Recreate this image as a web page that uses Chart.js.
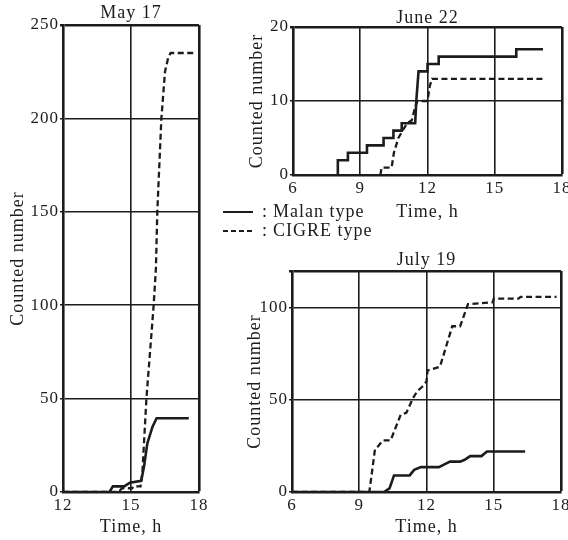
<!DOCTYPE html>
<html>
<head>
<meta charset="utf-8">
<script src="https://cdn.jsdelivr.net/npm/chart.js@4"></script>
<style>
  body { margin: 0; background: #fff; }
  #wrap { position: relative; width: 568px; height: 540px; overflow: hidden; }
  canvas { position: absolute; }
</style>
</head>
<body>
<div id="wrap">
  <canvas id="may17" width="230" height="540" style="left:0;top:0"></canvas>
  <canvas id="june22" width="348" height="225" style="left:220px;top:0"></canvas>
  <canvas id="july19" width="348" height="340" style="left:220px;top:200px"></canvas>
</div>
<script>
// May 17
const mayXTicks = [12, 15, 18];
const mayYTicks = [0, 50, 100, 150, 200, 250];
const mayMalanHours = [12, 14.05, 14.2, 14.7, 14.95, 15.45, 15.58, 15.72, 15.95, 16.13, 17.55];
const mayMalanCount = [0, 0, 3, 3, 5, 6, 14, 26, 35, 39.5, 39.5];
const mayCigreHours = [12, 14.45, 14.6, 15.05, 15.1, 15.42, 15.5, 15.68, 16.0, 16.1, 16.16, 16.34, 16.5, 16.65, 16.75, 17.75];
const mayCigreCount = [0, 0, 2, 2, 3, 3, 10, 50, 100, 120, 150, 200, 225, 233, 235, 235];

// June 22
const juneXTicks = [6, 9, 12, 15, 18];
const juneYTicks = [0, 10, 20];
const juneMalanHours = [8.0, 8.0, 8.45, 8.45, 9.3, 9.3, 10.04, 10.04, 10.48, 10.48, 10.85, 10.85, 11.45, 11.5, 11.6, 12.0, 12.0, 12.5, 12.5, 15.96, 15.96, 17.15];
const juneMalanCount = [0, 2, 2, 3, 3, 4, 4, 5, 5, 6, 6, 7, 7, 10, 14, 14, 15, 15, 16, 16, 17, 17];
const juneCigreHours = [9.9, 9.95, 10.4, 10.5, 10.7, 10.95, 11.1, 11.3, 11.45, 11.55, 12.0, 12.1, 12.2, 17.15];
const juneCigreCount = [0, 1, 1, 3, 5, 6.3, 7, 7.4, 9.2, 10, 10, 12, 13, 13];

// July 19
const julyXTicks = [6, 9, 12, 15, 18];
const julyYTicks = [0, 50, 100];
const julyYMax = 120;
const julyMalanHours = [6, 10.1, 10.35, 10.55, 11.25, 11.45, 11.75, 12.55, 12.8, 13.05, 13.5, 13.7, 13.95, 14.45, 14.7, 16.4];
const julyMalanCount = [0, 0, 2, 9, 9, 12, 13.5, 13.5, 15, 16.5, 16.5, 17.5, 19.5, 19.5, 22, 22];
const julyCigreHours = [6, 9.45, 9.7, 9.85, 10.05, 10.4, 10.85, 11.1, 11.4, 11.6, 11.8, 12.0, 12.05, 12.6, 13.15, 13.5, 13.85, 14.95, 15.0, 16.1, 16.2, 17.8];
const julyCigreCount = [0, 0, 23, 25, 28, 28, 42, 43, 51, 55, 57, 60, 66, 68, 90, 90, 102, 103, 105, 105, 106, 106];

const seriesNames = ['Malan type', 'CIGRE type'];

const ink = '#1c1c1c';
const serif = 'Liberation Serif';

function pts(xs, ys) {
  return xs.map((x, i) => ({ x: x, y: ys[i] }));
}

function series(malan, cigre) {
  return [
    { label: seriesNames[0], data: malan, borderColor: ink, borderWidth: 2.6, borderDash: [], pointRadius: 0, tension: 0 },
    { label: seriesNames[1], data: cigre, borderColor: ink, borderWidth: 2.3, borderDash: [6, 3.5], pointRadius: 0, tension: 0 }
  ];
}

// scan-like wide letter spacing
const spacing = {
  id: 'spacing',
  beforeDraw(chart) { chart.ctx.letterSpacing = '1px'; }
};

// the "—— : Malan type" key between the right panels
const lineKey = {
  id: 'lineKey',
  afterDraw(chart) {
    const ctx = chart.ctx;
    ctx.save();
    chart.data.datasets.forEach((ds, i) => {
      const y = 12 + i * 19;
      ctx.strokeStyle = ds.borderColor;
      ctx.lineWidth = 2;
      ctx.setLineDash(ds.borderDash.length ? [5, 3] : []);
      ctx.beginPath();
      ctx.moveTo(3, y);
      ctx.lineTo(33, y);
      ctx.stroke();
      ctx.setLineDash([]);
      ctx.fillStyle = ink;
      ctx.font = '18px "' + serif + '"';
      ctx.textBaseline = 'middle';
      ctx.fillText(':', 42, y);
      ctx.fillText(ds.label, 53, y);
    });
    ctx.restore();
  }
};

function panel(id, p) {
  const font = { family: serif, size: 18, weight: 'normal', lineHeight: 1 };
  const tickFont = { family: serif, size: 17, weight: 'normal' };
  const yAll = p.yTicks.includes(p.yMax) ? p.yTicks : p.yTicks.concat([p.yMax]);
  return new Chart(document.getElementById(id), {
    type: 'line',
    data: { datasets: p.datasets },
    options: {
      responsive: false,
      animation: false,
      devicePixelRatio: 1,
      layout: { padding: { top: p.padTop, right: p.padRight, bottom: 0, left: 0 } },
      plugins: {
        legend: { display: false },
        tooltip: { enabled: false },
        title: {
          display: true, text: p.title, color: ink, font: font, fullSize: false,
          padding: { top: p.titlePad[0], bottom: p.titlePad[1] }
        }
      },
      scales: {
        x: {
          type: 'linear', min: p.xTicks[0], max: p.xTicks[p.xTicks.length - 1],
          afterBuildTicks: s => { s.ticks = p.xTicks.map(v => ({ value: v })); },
          afterFit: s => { s.height = p.xHeight; s.paddingLeft = 0; s.paddingRight = 0; },
          ticks: { color: ink, font: tickFont, padding: 3, maxRotation: 0, autoSkip: false },
          grid: {
            color: ink, drawTicks: false,
            lineWidth: c => (c.tick && c.tick.value === p.xTicks[p.xTicks.length - 1]) ? 2.6 : 1.6
          },
          border: { color: ink, width: 2.6 },
          title: { display: true, text: 'Time, h', color: ink, font: font, padding: { top: 0, bottom: 4 } }
        },
        y: {
          type: 'linear', min: 0, max: p.yMax,
          afterBuildTicks: s => { s.ticks = yAll.map(v => ({ value: v })); },
          afterFit: s => { s.width = p.yWidth; s.paddingTop = 0; s.paddingBottom = 0; },
          ticks: {
            color: ink, font: tickFont, padding: 1, autoSkip: false,
            callback: v => p.yTicks.includes(v) ? String(v) : ''
          },
          grid: {
            color: ink, tickLength: 3,
            lineWidth: c => (c.tick && c.tick.value === p.yMax) ? 2.6 : 1.6
          },
          border: { color: ink, width: 2.6 },
          title: { display: true, text: 'Counted number', color: ink, font: font, padding: { top: p.yTitlePad, bottom: 0 } }
        }
      }
    },
    plugins: [spacing].concat(p.extra || [])
  });
}

panel('may17', {
  title: 'May 17',
  datasets: series(pts(mayMalanHours, mayMalanCount), pts(mayCigreHours, mayCigreCount)),
  xTicks: mayXTicks, yTicks: mayYTicks, yMax: 250,
  padTop: 0, padRight: 31, titlePad: [4, 3],
  yWidth: 63, xHeight: 48, yTitlePad: 9
});

panel('june22', {
  title: 'June 22',
  datasets: series(pts(juneMalanHours, juneMalanCount), pts(juneCigreHours, juneCigreCount)),
  xTicks: juneXTicks, yTicks: juneYTicks, yMax: 20,
  padTop: 0, padRight: 6, titlePad: [9, 0],
  yWidth: 73, xHeight: 50, yTitlePad: 28
});

panel('july19', {
  title: 'July 19',
  datasets: series(pts(julyMalanHours, julyMalanCount), pts(julyCigreHours, julyCigreCount)),
  xTicks: julyXTicks, yTicks: julyYTicks, yMax: julyYMax,
  padTop: 50, padRight: 7, titlePad: [1, 2],
  yWidth: 72, xHeight: 48, yTitlePad: 26,
  extra: [lineKey]
});
</script>
</body>
</html>
